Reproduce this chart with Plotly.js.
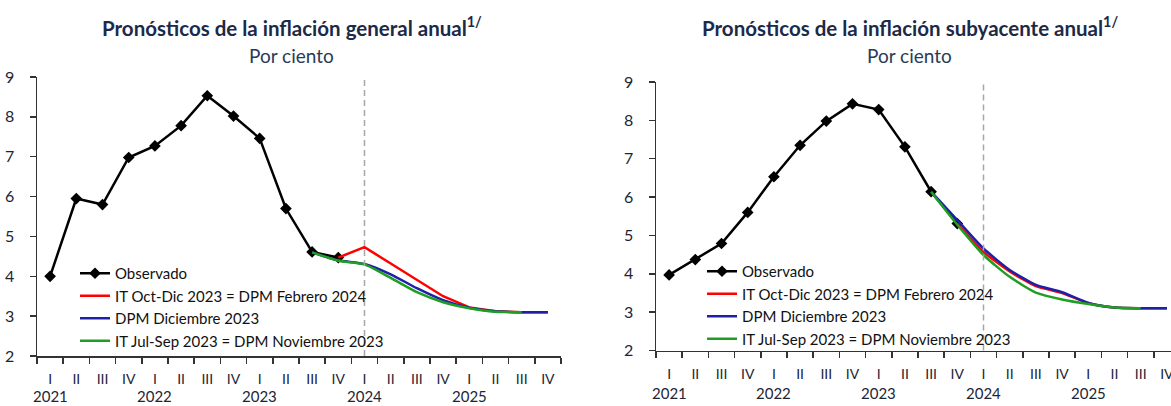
<!DOCTYPE html>
<html>
<head>
<meta charset="utf-8">
<script src="https://cdn.plot.ly/plotly-3.0.1.min.js"></script>
<style>
  html, body { margin: 0; padding: 0; overflow: hidden; background: #fff; }
  #chart { width: 1190px; height: 406px; }
</style>
</head>
<body>
<div id="chart"></div>
<script>
// ---- Data ----
const quarters = ['I', 'II', 'III', 'IV'];
const years = ['2021', '2022', '2023', '2024', '2025'];
const forecastStart = 'I 2024';

const seriesNames = [
  'Observado',
  'IT Oct-Dic 2023 = DPM Febrero 2024',
  'DPM Diciembre 2023',
  'IT Jul-Sep 2023 = DPM Noviembre 2023'
];

// Inflación general anual
const generalObsStart = 'I 2021';
const generalObs = [4.00, 5.95, 5.80, 6.98, 7.27, 7.78, 8.53, 8.02, 7.46, 5.70, 4.61, 4.47];
const generalFebStart = 'IV 2023';
const generalFeb = [4.47, 4.73, 4.32, 3.91, 3.50, 3.22, 3.12, 3.10, 3.10];
const generalDicStart = 'III 2023';
const generalDic = [4.60, 4.40, 4.31, 4.05, 3.70, 3.40, 3.21, 3.12, 3.10, 3.10];
const generalNovStart = 'III 2023';
const generalNov = [4.60, 4.39, 4.30, 3.96, 3.60, 3.35, 3.20, 3.11, 3.10];

// Inflación subyacente anual
const coreObsStart = 'I 2021';
const coreObs = [3.97, 4.37, 4.79, 5.60, 6.53, 7.35, 7.98, 8.43, 8.28, 7.31, 6.14, 5.31];
const coreFebStart = 'IV 2023';
const coreFeb = [5.31, 4.57, 4.06, 3.68, 3.50, 3.24, 3.12, 3.10, 3.10];
const coreDicStart = 'III 2023';
const coreDic = [6.14, 5.40, 4.66, 4.10, 3.71, 3.52, 3.24, 3.12, 3.10, 3.10];
const coreNovStart = 'III 2023';
const coreNov = [6.14, 5.28, 4.49, 3.92, 3.51, 3.33, 3.21, 3.12, 3.10];

// ---- Build ----
const categories = [];
const quarterLabels = [];
years.forEach(y => quarters.forEach(q => { categories.push(q + ' ' + y); quarterLabels.push(q); }));
function xs(start, vals) {
  const i = categories.indexOf(start);
  return categories.slice(i, i + vals.length);
}

const W = 1190, H = 406;
const FONT = 'Lato, "Open Sans", sans-serif';
const TXT = '#1c2536';
const colors = ['#000000', '#ff0000', '#1f1fa8', '#1e9e22'];

function makeTraces(obsStart, obs, febStart, feb, dicStart, dic, novStart, nov, xa, ya, leg, febShape) {
  return [
    { x: xs(obsStart, obs), y: obs, name: seriesNames[0], xaxis: xa, yaxis: ya, legend: leg,
      type: 'scatter', mode: 'lines+markers',
      line: { color: colors[0], width: 2.5 }, marker: { symbol: 'diamond', size: 9, color: colors[0] } },
    { x: xs(febStart, feb), y: feb, name: seriesNames[1], xaxis: xa, yaxis: ya, legend: leg,
      type: 'scatter', mode: 'lines', line: { color: colors[1], width: 2.5, shape: febShape, smoothing: 0.6 } },
    { x: xs(dicStart, dic), y: dic, name: seriesNames[2], xaxis: xa, yaxis: ya, legend: leg,
      type: 'scatter', mode: 'lines', line: { color: colors[2], width: 2.5, shape: 'spline', smoothing: 0.6 } },
    { x: xs(novStart, nov), y: nov, name: seriesNames[3], xaxis: xa, yaxis: ya, legend: leg,
      type: 'scatter', mode: 'lines', line: { color: colors[3], width: 2.5, shape: 'spline', smoothing: 0.6 } }
  ];
}

const data = [].concat(
  makeTraces(generalObsStart, generalObs, generalFebStart, generalFeb, generalDicStart, generalDic, generalNovStart, generalNov, 'x', 'y', 'legend', 'linear'),
  makeTraces(coreObsStart, coreObs, coreFebStart, coreFeb, coreDicStart, coreDic, coreNovStart, coreNov, 'x2', 'y2', 'legend2', 'spline')
);

function xaxisDef(d0, d1, anchor) {
  return {
    type: 'category', domain: [d0 / W, d1 / W], anchor: anchor,
    categoryorder: 'array', categoryarray: categories,
    range: [-0.5, categories.length - 0.5],
    tickmode: 'array', tickvals: categories, ticktext: quarterLabels,
    tickson: 'boundaries', ticks: 'outside', ticklen: 6, tickwidth: 1.5, tickcolor: '#333',
    showline: true, linecolor: '#333', linewidth: 1.5,
    showgrid: false, zeroline: false, fixedrange: true,
    tickfont: { family: FONT, size: 14, color: TXT }, ticklabelstandoff: 10
  };
}
function yaxisDef(top, bottom, anchor) {
  return {
    domain: [(H - bottom) / H, (H - top) / H], anchor: anchor,
    range: [2, 9], dtick: 1, tick0: 2,
    ticks: 'outside', ticklen: 6, tickwidth: 1.5, tickcolor: '#333',
    showline: true, linecolor: '#333', linewidth: 1.5,
    showgrid: false, zeroline: false, fixedrange: true,
    tickfont: { family: FONT, size: 16, color: TXT }, ticklabelstandoff: 12
  };
}

function legendDef(xpx, ypx) {
  return {
    x: xpx / W, y: (H - ypx) / H, xanchor: 'left', yanchor: 'top',
    bgcolor: 'rgba(0,0,0,0)', borderwidth: 0,
    font: { family: FONT, size: 15, color: '#111' },
    itemclick: false, itemdoubleclick: false
  };
}

const annotations = [
  { xref: 'paper', yref: 'paper', x: 292 / W, y: (H - 27) / H, xanchor: 'center', yanchor: 'middle', showarrow: false,
    text: '<b>Pronósticos de la inflación general anual<sup>1/</sup></b>', font: { family: FONT, size: 20.5, color: '#1c2a48' } },
  { xref: 'paper', yref: 'paper', x: 291 / W, y: (H - 55) / H, xanchor: 'center', yanchor: 'middle', showarrow: false,
    text: 'Por ciento', font: { family: FONT, size: 19, color: '#2a3a55' } },
  { xref: 'paper', yref: 'paper', x: 910 / W, y: (H - 27) / H, xanchor: 'center', yanchor: 'middle', showarrow: false,
    text: '<b>Pronósticos de la inflación subyacente anual<sup>1/</sup></b>', font: { family: FONT, size: 20.5, color: '#1c2a48' } },
  { xref: 'paper', yref: 'paper', x: 910 / W, y: (H - 55) / H, xanchor: 'center', yanchor: 'middle', showarrow: false,
    text: 'Por ciento', font: { family: FONT, size: 19, color: '#2a3a55' } }
];
years.forEach(y => {
  ['x', 'x2'].forEach((xr, k) => {
    annotations.push({ xref: xr, yref: 'paper', x: 'I ' + y, y: (H - (k === 0 ? 396 : 393)) / H,
      xanchor: 'center', yanchor: 'middle', showarrow: false, text: y,
      font: { family: FONT, size: 15, color: TXT } });
  });
});

const shapes = [
  { type: 'line', xref: 'x', yref: 'y domain', x0: forecastStart, x1: forecastStart, y0: 0, y1: 1,
    line: { color: '#a6a6a6', width: 1.5, dash: '6px,4px' } },
  { type: 'line', xref: 'x2', yref: 'y2 domain', x0: forecastStart, x1: forecastStart, y0: 0, y1: 1,
    line: { color: '#a6a6a6', width: 1.5, dash: '6px,4px' } }
];

const layout = {
  width: W, height: H,
  margin: { l: 0, r: 0, t: 0, b: 0 },
  paper_bgcolor: '#fff', plot_bgcolor: 'rgba(0,0,0,0)',
  font: { family: FONT, color: TXT },
  showlegend: true,
  xaxis: xaxisDef(37, 561, 'y'),
  yaxis: yaxisDef(77, 356, 'x'),
  xaxis2: xaxisDef(656, 1180, 'y2'),
  yaxis2: yaxisDef(82, 350.5, 'x2'),
  legend: legendDef(75, 257),
  legend2: legendDef(702, 255),
  annotations: annotations,
  shapes: shapes
};

Plotly.newPlot('chart', data, layout, { staticPlot: true, displayModeBar: false });
</script>
</body>
</html>
